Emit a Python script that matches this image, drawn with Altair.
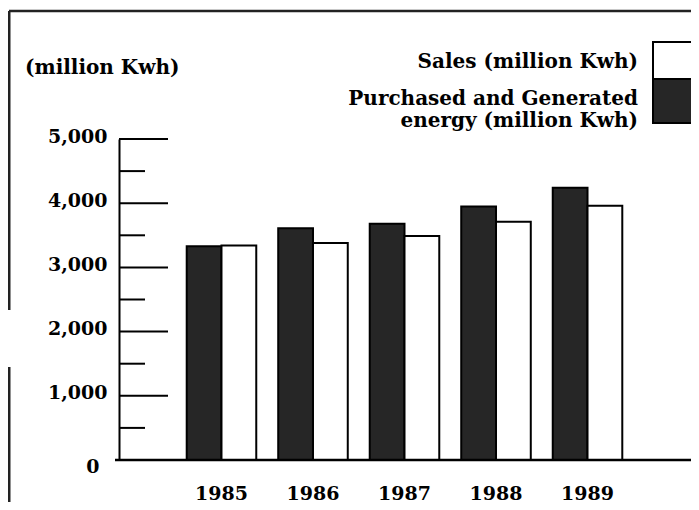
import altair as alt
import pandas as pd

years = ["1985", "1986", "1987", "1988", "1989"]
purchased = [3330, 3610, 3680, 3950, 4240]
sales = [3340, 3380, 3490, 3710, 3960]
major_ticks = [1000, 2000, 3000, 4000, 5000]
minor_ticks = [500, 1500, 2500, 3500, 4500]
label_ticks = [0, 1000, 2000, 3000, 4000, 5000]

unit_label = "(million Kwh)"
sales_label = "Sales (million Kwh)"
purch_label = ["Purchased and Generated", "energy (million Kwh)"]

FONT = "DejaVu Serif"
DARK = "#262626"

rows = []
for y, p, s in zip(years, purchased, sales):
    rows.append({"year": y, "series": "P", "value": p})
    rows.append({"year": y, "series": "S", "value": s})
df = pd.DataFrame(rows)

yscale = alt.Scale(domain=[0, 5000], nice=False)
yaxis = alt.Axis(values=label_ticks, format=",d", grid=False, ticks=False,
                 domain=True, domainColor="black", domainWidth=2,
                 labelFont=FONT, labelFontWeight="bold",
                 labelFontSize=19, labelColor="black",
                 labelPadding={"expr": "datum.value == 0 ? 20 : 12"},
                 labelOffset={"expr": "datum.value == 0 ? 6 : -3"})

bars = alt.Chart(df).mark_bar(stroke="black", strokeWidth=2).encode(
    x=alt.X("year:N", title=None,
            scale=alt.Scale(paddingInner=0.24, paddingOuter=0.74),
            axis=alt.Axis(domain=False, ticks=False, labelAngle=0,
                          labelFont=FONT, labelFontWeight="bold",
                          labelFontSize=19, labelColor="black",
                          labelPadding=24)),
    xOffset=alt.XOffset("series:N", sort=["P", "S"],
                        scale=alt.Scale(paddingInner=0, paddingOuter=0)),
    y=alt.Y("value:Q", title=None, scale=yscale, axis=yaxis),
    color=alt.Color("series:N", scale=alt.Scale(domain=["P", "S"], range=[DARK, "white"]),
                    legend=None),
)

one = pd.DataFrame({"a": [0]})

major = alt.Chart(pd.DataFrame({"value": major_ticks})).mark_rule(color="black", strokeWidth=2).encode(
    y=alt.Y("value:Q", title=None, scale=yscale, axis=yaxis), x=alt.value(0), x2=alt.value(49))
minor = alt.Chart(pd.DataFrame({"value": minor_ticks})).mark_rule(color="black", strokeWidth=2).encode(
    y=alt.Y("value:Q", title=None, scale=yscale, axis=yaxis), x=alt.value(0), x2=alt.value(26))

baseline = alt.Chart(one).mark_rule(color="black", strokeWidth=2.5).encode(
    y=alt.datum(0), x=alt.value(-4), x2=alt.value(578))

frame_top = alt.Chart(one).mark_rule(color="#222", strokeWidth=2.5).encode(
    y=alt.value(-128), x=alt.value(-110), x2=alt.value(580))
frame_left1 = alt.Chart(one).mark_rule(color="#222", strokeWidth=3).encode(
    x=alt.value(-110), y=alt.value(-128), y2=alt.value(171))
frame_left2 = alt.Chart(one).mark_rule(color="#222", strokeWidth=3).encode(
    x=alt.value(-110), y=alt.value(228), y2=alt.value(370))

def txt(s, x, y, align, size=20):
    return alt.Chart(one).mark_text(font=FONT, fontWeight="bold", fontSize=size,
                                    align=align, baseline="middle", color="black").encode(
        x=alt.value(x), y=alt.value(y), text=alt.value(s))

t_unit = txt(unit_label, -94, -71, "left")
t_sales = txt(sales_label, 519, -77, "right")
t_p1 = txt(purch_label[0], 519, -40, "right")
t_p2 = txt(purch_label[1], 519, -18, "right")

sw_white = alt.Chart(one).mark_rect(fill="white", stroke="black", strokeWidth=2).encode(
    x=alt.value(534), x2=alt.value(590), y=alt.value(-97), y2=alt.value(-60))
sw_dark = alt.Chart(one).mark_rect(fill=DARK, stroke="black", strokeWidth=2).encode(
    x=alt.value(534), x2=alt.value(590), y=alt.value(-60), y2=alt.value(-16))

chart = alt.layer(
    bars, major, minor, baseline, frame_top, frame_left1, frame_left2,
    t_unit, t_sales, t_p1, t_p2, sw_white, sw_dark
).properties(
    width=571, height=321,
    padding={"left": 111, "top": 131, "right": 1, "bottom": 42},
    autosize=alt.AutoSizeParams(type="none"),
    background="white",
).configure_view(stroke=None)

chart.save("out.html", embed_options={"renderer": "svg", "actions": False})
